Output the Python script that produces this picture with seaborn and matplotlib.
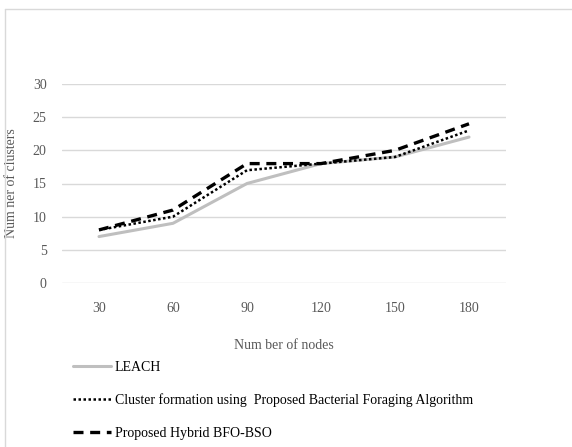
import numpy as np
import pandas as pd
import matplotlib
matplotlib.use('Agg')
import matplotlib.pyplot as plt
import seaborn as sns
from matplotlib.lines import Line2D

nodes = ['30', '60', '90', '120', '150', '180']
leach = [7, 9, 15, 18, 19, 22]
bfa = [8, 10, 17, 18, 19, 23]
hybrid = [8, 11, 18, 18, 20, 24]
labels = ['LEACH',
          'Cluster formation using  Proposed Bacterial Foraging Algorithm',
          'Proposed Hybrid BFO-BSO']

sns.set_style('white')
plt.rcParams['font.family'] = ['Liberation Serif', 'DejaVu Serif']
serif = {'family': 'Liberation Serif', 'size': 10}

fig = plt.figure(figsize=(5.72, 4.47), dpi=100)
ax = fig.add_axes([62 / 572, 164 / 447, 444 / 572, 199 / 447])

x = np.arange(len(nodes))
sns.lineplot(x=x, y=leach, ax=ax, color='#bfbfbf', linewidth=2.2)
sns.lineplot(x=x, y=bfa, ax=ax, color='black', linewidth=1.8, linestyle=(0, (1, 1)))
sns.lineplot(x=x, y=hybrid, ax=ax, color='black', linewidth=2.4, linestyle=(0, (3, 2)))

ax.set_xlim(-0.5, len(nodes) - 0.5)
ax.set_ylim(0, 30)
ax.set_yticks(range(0, 31, 5))
ax.set_xticks(x)
ax.set_xticklabels(nodes)
ax.grid(axis='y', color='#d9d9d9', linewidth=1)
ax.set_axisbelow(True)
for s in ax.spines.values():
    s.set_visible(False)
ax.tick_params(axis='both', length=0, labelsize=10, colors='#595959')
ax.tick_params(axis='y', pad=11)
ax.tick_params(axis='x', pad=14)
ax.set_xlabel('Num ber of nodes', fontdict=serif, color='#595959', labelpad=17)
ax.set_ylabel('Num ner of clusters', fontdict=serif, color='#595959',
              va='center')
ax.yaxis.set_label_coords(-50 / 444, 0.5)

handles = [
    Line2D([], [], color='#bfbfbf', linewidth=2.2),
    Line2D([], [], color='black', linewidth=1.8, linestyle=(0, (1, 1))),
    Line2D([], [], color='black', linewidth=2.4, linestyle=(0, (3, 2))),
]
leg = fig.legend(handles, labels, loc='upper left', bbox_to_anchor=(73 / 572, 1 - 361 / 447),
                 frameon=False, prop=serif, handlelength=2.7, handletextpad=0.3,
                 labelspacing=1.4, borderaxespad=0, borderpad=0)
for t in leg.get_texts():
    t.set_fontfamily('Liberation Serif')
    t.set_color('black')

# outer chart frame (left and top edges only visible)
fig.add_artist(Line2D([5 / 572, 5 / 572], [0, 1 - 9 / 447], transform=fig.transFigure,
                      color='#d9d9d9', linewidth=1))
fig.add_artist(Line2D([5 / 572, 1], [1 - 9 / 447, 1 - 9 / 447], transform=fig.transFigure,
                      color='#d9d9d9', linewidth=1))

fig.savefig('out.png', dpi=100)
